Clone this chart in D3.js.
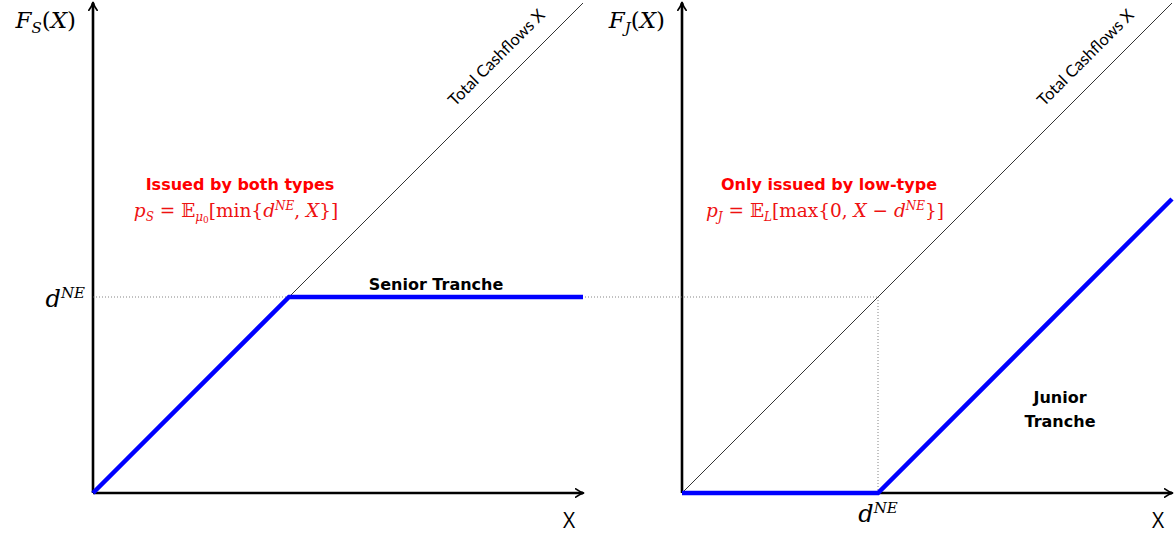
<!DOCTYPE html>
<html><head><meta charset="utf-8">
<script src="https://cdn.jsdelivr.net/npm/d3@7"></script>
<style>body{margin:0;background:#fff}svg{display:block}</style>
</head><body>
<script>
// ---- data ----
const domainMax = 5;          // extent of X and F(X)
const dNE = 2;                // d^NE threshold
const diagX = [0, 5];         // total cashflows line F(X)=X
const seniorX = [0, 2, 5];
const seniorY = [0, 2, 2];
const juniorX = [0, 2, 5];
const juniorY = [0, 0, 3];

const W = 1175, H = 536;
const svg = d3.select("body").append("svg").attr("width", W).attr("height", H);

const panels = [
  {x0: 93, key: "S", lineX: seniorX, lineY: seniorY},
  {x0: 682, key: "J", lineX: juniorX, lineY: juniorY}
];
const size = 490, y0 = 493;
const serif = "'DejaVu Serif',serif";
const sans = "'Open Sans','DejaVu Sans',sans-serif";
const sansB = "'DejaVu Sans',sans-serif";

svg.append("defs").append("marker")
  .attr("id","arr").attr("viewBox","0 0 10 10").attr("refX",8).attr("refY",5)
  .attr("markerWidth",4).attr("markerHeight",4).attr("orient","auto-start-reverse")
  .attr("markerUnits","strokeWidth")
  .append("path").attr("d","M1,1 Q5,4 9,5 Q5,6 1,9").attr("fill","none")
  .attr("stroke","#000").attr("stroke-width",1.6).attr("stroke-linecap","round");

panels.forEach((p, i) => {
  const x = d3.scaleLinear().domain([0, domainMax]).range([p.x0, p.x0 + size]);
  const y = d3.scaleLinear().domain([0, domainMax]).range([y0, y0 - size]);
  p.x = x; p.y = y;
  const g = svg.append("g");

  // diagonal
  g.append("line").attr("x1", x(diagX[0])).attr("y1", y(diagX[0]))
    .attr("x2", x(diagX[1])).attr("y2", y(diagX[1]))
    .attr("stroke", "#000").attr("stroke-width", 0.8);

  // axes
  const ax = d3.axisBottom(x).tickValues([]).tickSizeOuter(0);
  const ay = d3.axisLeft(y).tickValues([]).tickSizeOuter(0);
  g.append("g").attr("transform", `translate(0,${y0})`).call(ax)
    .select(".domain").attr("stroke", "#000").attr("stroke-width", 2.6)
    .attr("d", `M${x(0)},0H${x(domainMax)}`).attr("marker-end", "url(#arr)");
  g.append("g").attr("transform", `translate(${p.x0},0)`).call(ay)
    .select(".domain").attr("stroke", "#000").attr("stroke-width", 2.6)
    .attr("d", `M0,${y(0)}V${y(domainMax)}`).attr("marker-end", "url(#arr)");

  // X label
  g.append("text").attr("x", x(domainMax) - 14).attr("y", 528)
    .attr("font-family", sans).attr("font-size", 21).attr("text-anchor", "middle").text("X");

  // Y label F_S(X)
  const yl = g.append("text").attr("x", p.x0 - 17).attr("y", 28)
    .attr("font-family", serif).attr("font-size", 23).attr("text-anchor", "end");
  yl.append("tspan").attr("font-style", "italic").text("F");
  yl.append("tspan").attr("font-style", "italic").attr("font-size", 15).attr("dy", 5).text(p.key);
  yl.append("tspan").attr("dy", -5).text("(");
  yl.append("tspan").attr("font-style", "italic").text("X");
  yl.append("tspan").text(")");

  // Total Cashflows X label
  const tc = [x(4.28), y(4.28)];
  g.append("text").attr("transform", `translate(${tc[0] - 12},${tc[1] - 12}) rotate(-45)`)
    .attr("font-family", "Lato,'Open Sans',sans-serif").attr("font-size", 16.5).attr("text-anchor", "middle")
    .text("Total Cashflows X");
});

// dotted guides
const L = panels[0], R = panels[1];
svg.append("line").attr("x1", L.x(0)).attr("y1", L.y(dNE)).attr("x2", R.x(dNE)).attr("y2", L.y(dNE))
  .attr("stroke", "#666").attr("stroke-width", 0.8).attr("stroke-dasharray", "1 2");
svg.append("line").attr("x1", R.x(dNE)).attr("y1", R.y(dNE)).attr("x2", R.x(dNE)).attr("y2", R.y(0))
  .attr("stroke", "#666").attr("stroke-width", 0.8).attr("stroke-dasharray", "1 2");

// tranche lines
panels.forEach(p => {
  const line = d3.line().x((d, i) => p.x(p.lineX[i])).y(d => p.y(d));
  svg.append("path").datum(p.lineY).attr("d", line).attr("fill", "none")
    .attr("stroke", "#0000ff").attr("stroke-width", 4.5).attr("stroke-linejoin", "miter");
});

// d^NE labels
function dne(xp, yp, anchor) {
  const t = svg.append("text").attr("x", xp).attr("y", yp).attr("font-family", serif)
    .attr("font-size", 24).attr("text-anchor", anchor);
  t.append("tspan").attr("font-style", "italic").text("d");
  t.append("tspan").attr("font-style", "italic").attr("font-size", 15).attr("dy", -9).text("NE");
}
dne(L.x0 - 8, L.y(dNE) + 10, "end");
dne(R.x(dNE), 522, "middle");

// bold titles
function bold(txt, xp, yp, color) {
  svg.append("text").attr("x", xp).attr("y", yp).attr("font-family", sansB).attr("font-weight", "bold")
    .attr("font-size", 16).attr("text-anchor", "middle").attr("fill", color).text(txt);
}
bold("Issued by both types", 240, 190, "#ff0000");
bold("Only issued by low-type", 829, 190, "#ff0000");
bold("Senior Tranche", 436, 290, "#000");
bold("Junior", 1060, 403, "#000");
bold("Tranche", 1060, 427, "#000");

// formulas
function formula(xp, yp, parts) {
  const t = svg.append("text").attr("x", xp).attr("y", yp).attr("font-family", serif)
    .attr("font-size", 18.5).attr("text-anchor", "middle").attr("fill", "#ee1111");
  parts.forEach(([s, it, dy, fs]) => {
    const ts = t.append("tspan").text(s);
    if (it) ts.attr("font-style", "italic");
    if (dy) ts.attr("dy", dy);
    if (fs) ts.attr("font-size", fs);
  });
}
formula(236, 217, [["p", 1], ["S", 1, 4, 12], [" = ", 0, -4], ["𝔼", 0], ["μ", 1, 4, 12], ["0", 0, 2, 9],
  ["[min{", 0, -6], ["d", 1], ["NE", 1, -7, 12], [", ", 0, 7], ["X", 1], ["}]", 0]]);
formula(825, 217, [["p", 1], ["J", 1, 4, 12], [" = ", 0, -4], ["𝔼", 0], ["L", 1, 4, 12],
  ["[max{0, ", 0, -4], ["X", 1], [" − ", 0], ["d", 1], ["NE", 1, -7, 12], ["}]", 0, 7]]);
</script>
</body></html>
